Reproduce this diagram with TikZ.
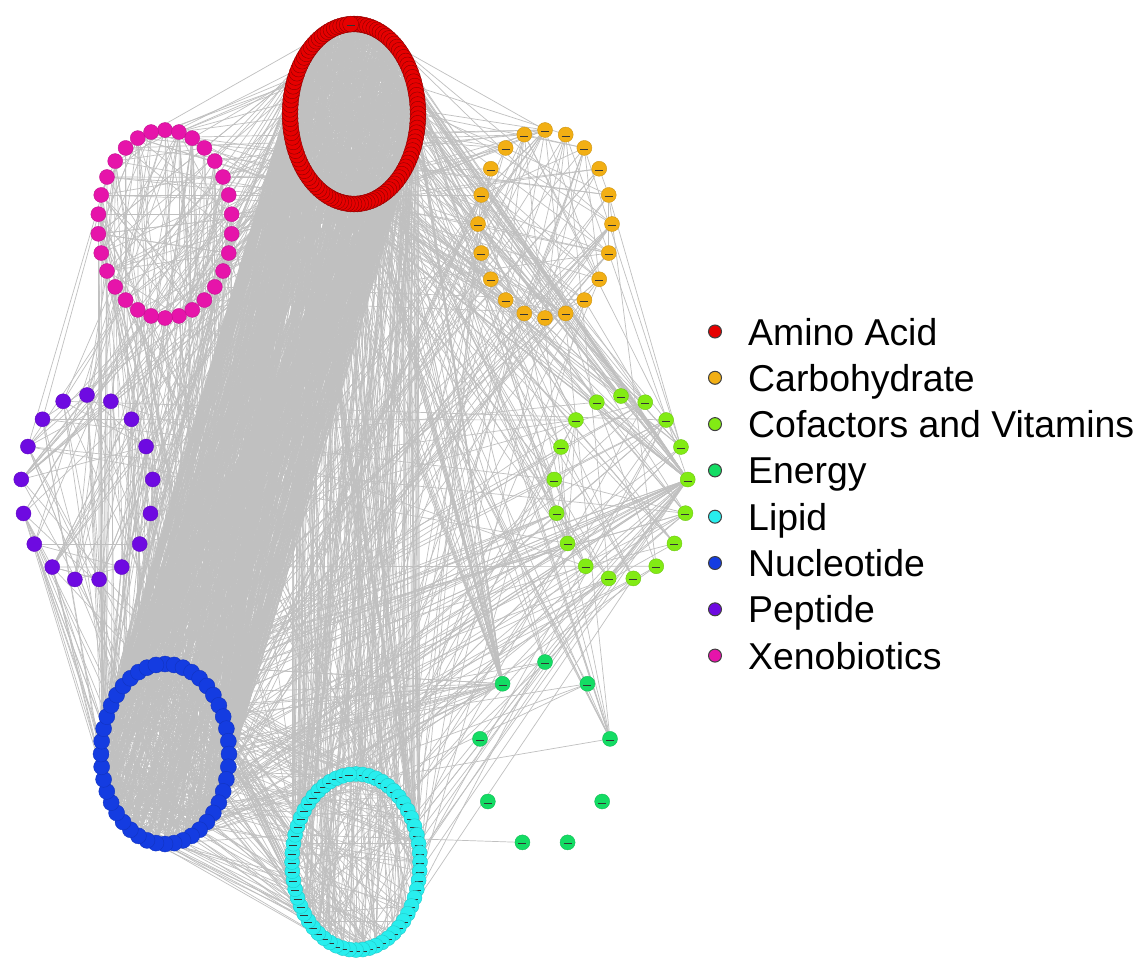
\documentclass[tikz,border=0pt]{standalone}
\usepackage{fontspec}
\setmainfont{Liberation Sans}
\pgfdeclarelayer{bg}
\pgfsetlayers{bg,main}
\definecolor{cAA}{RGB}{230,0,0}
\definecolor{cCA}{RGB}{242,175,20}
\definecolor{cCF}{RGB}{130,235,20}
\definecolor{cEN}{RGB}{20,220,100}
\definecolor{cLI}{RGB}{40,238,238}
\definecolor{cNU}{RGB}{20,60,225}
\definecolor{cPE}{RGB}{110,10,225}
\definecolor{cXE}{RGB}{230,20,170}
\definecolor{edgegray}{RGB}{192,192,192}
\tikzset{
  nd/.style={circle, fill=#1, draw=#1!85!black, line width=0.4pt, minimum size=15pt, inner sep=0pt},
  ndl/.style={nd=#1, path picture={\draw[black!80, line width=1pt] ([xshift=-4pt,yshift=-1.5pt]path picture bounding box.center) -- ++(8pt,0);}},
  ndd/.style={ndl=#1, minimum size=16pt, draw=#1!60!black},
  edge/.style={draw=edgegray, line width=0.7pt},
  legdot/.style={circle, fill=#1, draw=black!75, line width=1pt, minimum size=13pt, inner sep=0pt},
  legtext/.style={anchor=base west, inner sep=0pt, font=\fontsize{37.4}{44}\selectfont}
}
% prefix, count, cx, cy, rx, ry, style
\newcommand\mkcluster[7]{%
  \pgfmathsetmacro\stepang{360/#2}%
  \foreach \i in {1,...,#2}{%
    \pgfmathsetmacro\ang{90-\stepang*(\i-1)}%
    \node[#7] (#1\i) at ({#3+#5*cos(\ang)},{#4-#6*sin(\ang)}) {};
  }}
% count, prefix1, n1, prefix2, n2
\newcommand\mkedges[5]{%
  \foreach \k in {1,...,#1}{%
    \pgfmathrandominteger{\ra}{1}{#3}%
    \pgfmathrandominteger{\rb}{1}{#5}%
    \def\pa{#2}\def\pb{#4}%
    \ifx\pa\pb\ifnum\ra=\rb\else\draw[edge] (#2\ra) -- (#4\rb);\fi
    \else\draw[edge] (#2\ra) -- (#4\rb);\fi
  }}
% hub edges: count, hubname, prefix2, n2
\newcommand\mkhub[4]{%
  \foreach \k in {1,...,#1}{%
    \pgfmathrandominteger{\rb}{1}{#4}%
    \draw[edge] (#2) -- (#3\rb);
  }}
\begin{document}
\begin{tikzpicture}[x=1pt,y=-1pt]
\useasboundingbox (0,0) rectangle (1146,964);
% clusters
\mkcluster{A}{120}{354}{114}{64}{90}{ndd=cAA}
\mkcluster{C}{20}{545}{224}{67}{94}{ndl=cCA}
\mkcluster{X}{30}{165}{224}{67}{94}{nd=cXE}
\mkcluster{P}{17}{87}{488}{66}{93}{nd=cPE}
\mkcluster{F}{17}{621}{488}{67}{92}{ndl=cCF}
\mkcluster{E}{9}{545}{755}{66}{93}{ndl=cEN}
\mkcluster{N}{44}{165}{754}{64}{90}{nd=cNU, minimum size=16pt}
\mkcluster{L}{60}{356}{862}{64}{88}{ndl=cLI, minimum size=15pt}
% edges
\begin{pgfonlayer}{bg}
\fill[white] (0,0) rectangle (1146,964);
\pgfmathsetseed{4242}
\mkedges{600}{A}{120}{A}{120}
\mkedges{700}{A}{120}{N}{44}
\mkedges{160}{A}{120}{L}{60}
\mkedges{70}{A}{120}{X}{30}
\mkedges{55}{A}{120}{C}{20}
\mkedges{45}{A}{120}{F}{17}
\mkedges{35}{A}{120}{P}{17}
\mkedges{5}{A}{120}{E}{9}
\mkedges{300}{N}{44}{N}{44}
\mkedges{110}{N}{44}{L}{60}
\mkedges{100}{N}{44}{X}{30}
\mkedges{60}{N}{44}{P}{17}
\mkedges{40}{N}{44}{C}{20}
\mkedges{35}{N}{44}{F}{17}
\mkedges{5}{N}{44}{E}{9}
\mkedges{80}{L}{60}{L}{60}
\mkedges{20}{L}{60}{C}{20}
\mkedges{20}{L}{60}{F}{17}
\mkedges{4}{L}{60}{E}{9}
\mkedges{15}{L}{60}{X}{30}
\mkedges{50}{X}{30}{X}{30}
\mkedges{20}{C}{20}{C}{20}
\mkedges{15}{F}{17}{F}{17}
\mkedges{20}{P}{17}{P}{17}
\mkedges{25}{P}{17}{X}{30}
\mkedges{15}{C}{20}{F}{17}
\mkedges{12}{C}{20}{X}{30}
\mkedges{10}{F}{17}{P}{17}
\mkhub{30}{E9}{A}{120}
\mkhub{15}{E9}{N}{44}
\mkhub{6}{E3}{A}{120}
\mkhub{3}{E3}{C}{20}
\mkhub{25}{F5}{A}{120}
\mkhub{12}{F5}{N}{44}
\mkhub{8}{F5}{L}{60}
\end{pgfonlayer}
% legend
\foreach \c/\t [count=\k from 0] in {cAA/Amino Acid, cCA/Carbohydrate, cCF/Cofactors and Vitamins, cEN/Energy, cLI/Lipid, cNU/Nucleotide, cPE/Peptide, cXE/Xenobiotics}{
  \node[legdot=\c] (dot\k) at (715,{331.5+46.3*\k}) {};
  \node[legtext] (lab\k) at (748,{345+46.3*\k}) {\t};
}
\end{tikzpicture}
\end{document}
